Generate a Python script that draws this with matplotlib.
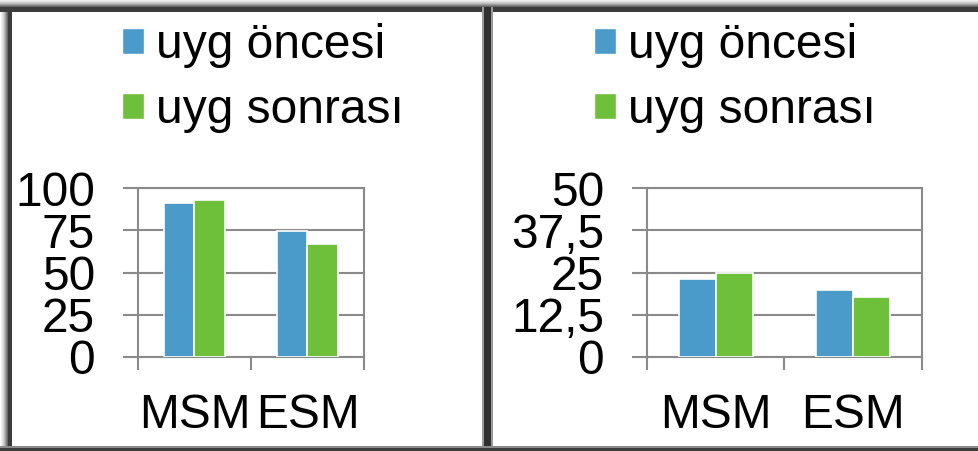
import matplotlib
matplotlib.use("Agg")
import matplotlib.pyplot as plt
from matplotlib.patches import Rectangle, Patch
from matplotlib.ticker import FixedLocator

plt.rcParams['font.family'] = ['Liberation Sans', 'DejaVu Sans']

# Data for both panels
categories = ['MSM', 'ESM']
series_names = ['uyg öncesi', 'uyg sonrası']
left_before = [91.3, 74.6]
left_after = [92.9, 66.9]
right_before = [23.1, 19.8]
right_after = [24.9, 17.8]
left_ticks = [0, 25, 50, 75, 100]
right_ticks = [0, 12.5, 25, 37.5, 50]

BLUE = '#4a9bca'
GREEN = '#6ebf3a'
GRID = '#8a8a8a'
FS = 34.5
W, H = 979, 451


def fx(x):
    return x / W


def fy(y):
    return 1 - y / H


fig = plt.figure(figsize=(9.79, 4.51), dpi=100)
fig.patch.set_facecolor('white')


def draw_panel(left_px, right_px, before, after, ticks, legend_x):
    ax = fig.add_axes([fx(left_px), fy(357), (right_px - left_px) / W, 169 / H])
    x = [i + 0.5 for i in range(len(categories))]
    bw = 0.27
    ax.bar([v - 0.135 for v in x], before, width=bw, color=BLUE,
           edgecolor='white', linewidth=1.2, zorder=3, label=series_names[0])
    ax.bar([v + 0.135 for v in x], after, width=bw, color=GREEN,
           edgecolor='white', linewidth=1.2, zorder=3, label=series_names[1])
    ax.set_xlim(0, len(categories))
    ax.set_ylim(ticks[0], ticks[-1])

    # y axis: gridlines plus outward ticks, comma decimals
    ax.set_yticks(ticks)
    ax.set_yticklabels([('%g' % t).replace('.', ',') for t in ticks])
    ax.yaxis.grid(True, color=GRID, linewidth=1.5, zorder=0)
    ax.tick_params(axis='y', direction='out', length=11, width=1.5,
                   color=GRID, labelsize=FS, pad=20)

    # x axis: labels at centers, tick marks at category boundaries
    ax.set_xticks(x)
    ax.set_xticklabels(categories)
    ax.xaxis.set_minor_locator(FixedLocator(range(len(categories) + 1)))
    ax.tick_params(axis='x', which='major', length=0, labelsize=FS, pad=26)
    ax.tick_params(axis='x', which='minor', direction='out', length=9.5,
                   width=1.5, color=GRID)
    for s in ax.spines.values():
        s.set_color(GRID)
        s.set_linewidth(1.5)
    ax.set_axisbelow(True)

    handles = [Patch(facecolor=BLUE, edgecolor='white'),
               Patch(facecolor=GREEN, edgecolor='white')]
    fig.legend(handles, series_names, loc='upper left',
               bbox_to_anchor=(fx(legend_x), fy(23)), frameon=False,
               fontsize=FS, handlelength=0.46, handleheight=0.46,
               handletextpad=0.25, labelspacing=0.42, borderpad=0,
               borderaxespad=0)
    return ax


draw_panel(138, 364, left_before, left_after, left_ticks, 122)
draw_panel(647, 922, right_before, right_after, right_ticks, 594)


def band(x0, y0, x1, y1, color, alpha=1.0):
    fig.add_artist(Rectangle((fx(x0), fy(y1)), (x1 - x0) / W, (y1 - y0) / H,
                             transform=fig.transFigure, facecolor=color,
                             edgecolor='none', alpha=alpha, zorder=10))


# Panel frames with a soft shadow
for i, a in enumerate([0.08, 0.15, 0.25, 0.35, 0.5, 0.65, 0.8]):
    band(0, i, W, i + 1, '#404040', a)
    band(i + 1, 7, i + 2, H, '#404040', a)
band(0, 7, W, 12, '#3c3c3c')
band(8, 7, 12, H, '#3c3c3c')
band(482, 7, 493, H, '#9a9a9a')
band(484, 7, 491, H, '#303030')
band(0, 446, W, 448, '#8a8a8a')
band(0, 448, W, H, '#3c3c3c')

fig.savefig('out.png', dpi=100, facecolor='white')
